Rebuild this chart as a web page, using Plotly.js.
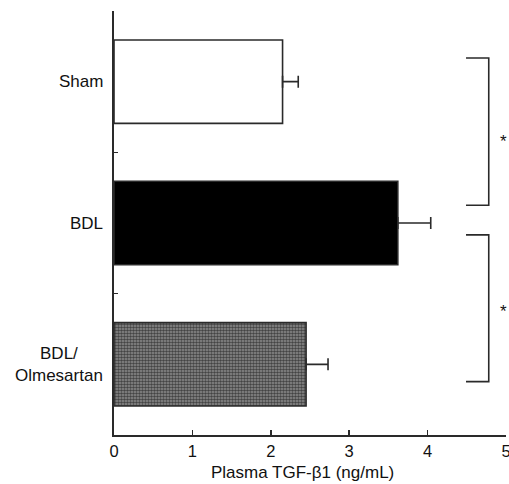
<!DOCTYPE html>
<html>
<head>
<meta charset="utf-8">
<script src="https://cdn.plot.ly/plotly-3.0.1.min.js"></script>
<style>
html,body{margin:0;padding:0;background:#fff;}
#chart{width:509px;height:484px;}
</style>
</head>
<body>
<div id="chart"></div>
<script>
// Data
const categories = ["Sham", "BDL", "BDL/Olmesartan"];
const categoryLabels = ["Sham", "BDL", "BDL/<br>Olmesartan"];
const values = [2.15, 3.62, 2.45];
const errors = [0.20, 0.42, 0.28];
const xTicks = [0, 1, 2, 3, 4, 5];
const xTitle = "Plasma TGF-β1 (ng/mL)";
const sigLabel = "*";

const FONT = "Liberation Sans, Arial, Helvetica, sans-serif";
const INK = "#2a2a2a";

const trace = {
  type: "bar",
  orientation: "h",
  y: categories,
  x: values,
  width: 0.59,
  marker: {
    color: ["#ffffff", "#000000", "#8e8e8e"],
    line: {color: INK, width: 1.6},
    pattern: {
      shape: ["", "", "."],
      fgcolor: "#2a2a2a",
      fgopacity: 1,
      size: 3,
      solidity: 0.55,
      fillmode: "overlay"
    }
  },
  error_x: {
    type: "data",
    symmetric: false,
    array: errors,
    arrayminus: [0, 0, 0],
    color: INK,
    thickness: 1.6,
    width: 6
  },
  hoverinfo: "skip"
};

const annotations = categories.map((c, i) => ({
  xref: "paper", yref: "y", x: 0, y: c,
  xanchor: "right", yanchor: "middle", xshift: -9,
  text: categoryLabels[i], showarrow: false, align: "center",
  font: {family: FONT, size: 17, color: "#111"}
}));

// axis title (slightly left of plot centre, as in the reference)
annotations.push({
  xref: "paper", yref: "paper", x: 0.48, y: -0.088,
  xanchor: "center", yanchor: "middle",
  text: xTitle, showarrow: false,
  font: {family: FONT, size: 17, color: "#111"}
});

// significance brackets (paper coords)
const brackets = [
  {x0: 4.49, x1: 4.78, y0: 0.889, y1: 0.542, star: 0.693},
  {x0: 4.49, x1: 4.78, y0: 0.472, y1: 0.126, star: 0.292}
];
const shapes = brackets.map(b => ({
  type: "path", xref: "x", yref: "paper",
  path: `M ${b.x0},${b.y0} L ${b.x1},${b.y0} L ${b.x1},${b.y1} L ${b.x0},${b.y1}`,
  line: {color: INK, width: 1.6}
}));
brackets.forEach(b => annotations.push({
  xref: "x", yref: "paper", x: 4.97, y: b.star,
  xanchor: "center", yanchor: "middle",
  text: sigLabel, showarrow: false,
  font: {family: FONT, size: 17, color: "#111"}
}));

const layout = {
  width: 509, height: 484,
  margin: {l: 114, r: 3, t: 11, b: 49, pad: 0},
  paper_bgcolor: "#fff", plot_bgcolor: "#fff",
  showlegend: false,
  font: {family: FONT, size: 16, color: "#111"},
  xaxis: {
    range: [0, 5], tickvals: xTicks, ticktext: xTicks.map(String),
    ticks: "inside", ticklen: 5, tickwidth: 1.6, tickcolor: INK,
    ticklabeloverflow: "allow",
    showline: true, linecolor: INK, linewidth: 1.8,
    showgrid: false, zeroline: false,
    tickfont: {family: FONT, size: 16.5, color: "#111"},
    fixedrange: true
  },
  yaxis: {
    type: "category", categoryorder: "array", categoryarray: categories,
    range: [2.5, -0.5],
    tickson: "boundaries",
    ticks: "inside", ticklen: 4, tickwidth: 1.6, tickcolor: INK,
    showticklabels: false,
    showline: true, linecolor: INK, linewidth: 1.8,
    showgrid: false, zeroline: false,
    fixedrange: true
  },
  shapes: shapes,
  annotations: annotations
};

Plotly.newPlot("chart", [trace], layout, {displayModeBar: false, staticPlot: true});
</script>
</body>
</html>
